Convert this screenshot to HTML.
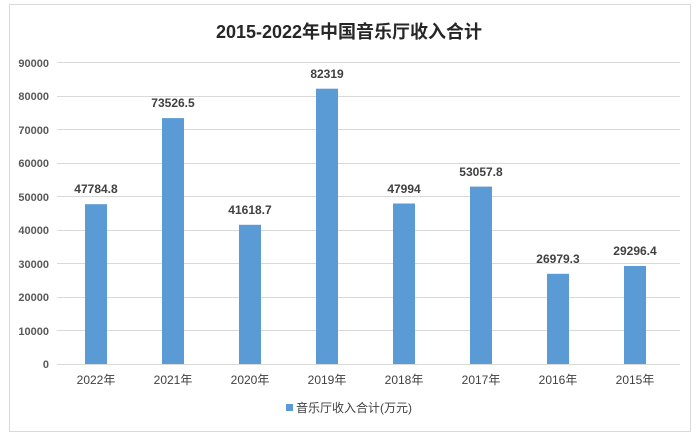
<!DOCTYPE html>
<html><head><meta charset="utf-8"><style>
body{margin:0;background:#fff;}
svg text{font-family:"Liberation Sans","Noto Sans CJK SC",sans-serif;}
</style></head><body>
<svg width="699" height="441" xmlns="http://www.w3.org/2000/svg">
<rect x="9.5" y="4.5" width="681" height="427" fill="#fff" stroke="#d9d9d9"/>
<text x="349" y="38" text-anchor="middle" font-size="18" font-weight="bold" fill="#262626">2015-2022年中国音乐厅收入合计</text>
<g stroke="#d9d9d9" stroke-width="1">
<line x1="57" x2="680" y1="62.5" y2="62.5"/>
<line x1="57" x2="680" y1="96.5" y2="96.5"/>
<line x1="57" x2="680" y1="129.5" y2="129.5"/>
<line x1="57" x2="680" y1="163.5" y2="163.5"/>
<line x1="57" x2="680" y1="196.5" y2="196.5"/>
<line x1="57" x2="680" y1="230.5" y2="230.5"/>
<line x1="57" x2="680" y1="263.5" y2="263.5"/>
<line x1="57" x2="680" y1="297.5" y2="297.5"/>
<line x1="57" x2="680" y1="330.5" y2="330.5"/>
<line x1="57" x2="680" y1="364.5" y2="364.5"/>
</g>
<g font-size="11" fill="#595959" text-anchor="end" font-weight="bold">
<text x="49" y="67">90000</text><text x="49" y="100">80000</text><text x="49" y="134">70000</text>
<text x="49" y="167">60000</text><text x="49" y="201">50000</text><text x="49" y="234">40000</text>
<text x="49" y="268">30000</text><text x="49" y="301">20000</text><text x="49" y="335">10000</text>
<text x="49" y="368">0</text>
</g>
<g fill="#5b9bd5">
<rect x="85" y="204.2" width="22" height="159.8"/>
<rect x="162" y="118.1" width="22" height="245.9"/>
<rect x="239" y="224.8" width="22" height="139.2"/>
<rect x="316" y="88.7" width="22" height="275.3"/>
<rect x="393" y="203.5" width="22" height="160.5"/>
<rect x="470" y="186.6" width="22" height="177.4"/>
<rect x="547" y="273.8" width="22" height="90.2"/>
<rect x="624" y="266" width="22" height="98"/>
</g>
<g font-size="12" font-weight="bold" fill="#404040" text-anchor="middle">
<text x="96" y="193">47784.8</text><text x="173" y="107">73526.5</text>
<text x="250" y="214">41618.7</text><text x="327" y="78">82319</text>
<text x="404" y="193">47994</text><text x="481" y="176">53057.8</text>
<text x="558" y="263">26979.3</text><text x="635" y="255">29296.4</text>
</g>
<g font-size="12" fill="#404040" text-anchor="middle">
<text x="96" y="384">2022年</text><text x="173" y="384">2021年</text><text x="250" y="384">2020年</text>
<text x="327" y="384">2019年</text><text x="404" y="384">2018年</text><text x="481" y="384">2017年</text>
<text x="558" y="384">2016年</text><text x="635" y="384">2015年</text>
</g>
<rect x="286" y="404" width="7" height="7" fill="#5b9bd5"/>
<text x="296" y="412" font-size="12" fill="#404040">音乐厅收入合计(万元)</text>
</svg>
</body></html>
